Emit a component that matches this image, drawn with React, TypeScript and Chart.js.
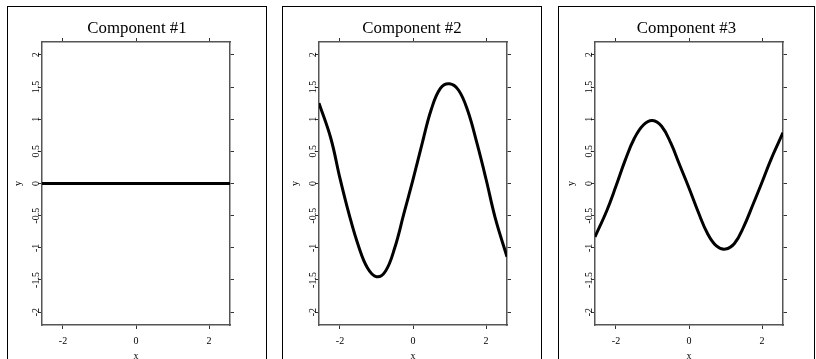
import React, { useEffect, useRef } from "react";
import { Chart, registerables } from "chart.js";

Chart.register(...registerables);

const titles = ["Component #1", "Component #2", "Component #3"];

const xValues = [
  -2.575, -2.25, -2.0, -1.75, -1.5, -1.25, -1.0, -0.75, -0.5, -0.25, 0,
  0.25, 0.5, 0.75, 1.0, 1.25, 1.5, 1.75, 2.0, 2.25, 2.575,
];

const component1 = [
  0, 0, 0, 0, 0, 0, 0, 0, 0, 0, 0, 0, 0, 0, 0, 0, 0, 0, 0, 0, 0,
];

const component2 = [
  1.25, 0.7, 0.08, -0.48, -0.96, -1.31, -1.45, -1.36, -1.0, -0.47, 0.06,
  0.62, 1.15, 1.48, 1.55, 1.45, 1.13, 0.63, 0.07, -0.53, -1.14,
];

const component3 = [
  -0.83, -0.42, -0.04, 0.36, 0.7, 0.91, 0.98, 0.89, 0.63, 0.28, -0.07,
  -0.44, -0.77, -0.97, -1.02, -0.93, -0.67, -0.33, 0.02, 0.38, 0.79,
];

const xTickValues = [-2, 0, 2];
const xTickLabels = ["-2", "0", "2"];
const yTickValues = [-2, -1.5, -1, -0.5, 0, 0.5, 1, 1.5, 2];
const yTickLabels = ["-2", "-1.5", "-1", "-0.5", "0", "0.5", "1", "1.5", "2"];
const xRange = [-2.575, 2.575];
const yRange = [-2.2, 2.2];

const seriesList = [component1, component2, component3];

const panels = [
  { frameLeft: 7, frameRight: 266, plotLeft: 42, plotRight: 230 },
  { frameLeft: 282, frameRight: 541, plotLeft: 319, plotRight: 507 },
  { frameLeft: 558, frameRight: 814, plotLeft: 595, plotRight: 783 },
];

const FONT = "'Liberation Serif', 'Times New Roman', serif";
const CANVAS_H = 360;
const PLOT_TOP = 35; // canvas coords
const PLOT_BOTTOM = 318;
const AXIS_COLOR = "#555";
const TICK_COLOR = "#333";

function Panel({ idx }: { idx: number }) {
  const ref = useRef<HTMLCanvasElement>(null);
  const p = panels[idx];
  const canvasW = p.frameRight - p.frameLeft - 1;
  useEffect(() => {
    if (!ref.current) return;
    const yW = p.plotLeft - (p.frameLeft + 1);
    const y2W = p.frameRight - p.plotRight;
    const xH = CANVAS_H - PLOT_BOTTOM;
    const tickFont = { family: FONT, size: 10 };
    const setX = (s: any) => {
      s.ticks = xTickValues.map((v) => ({ value: v }));
    };
    const setY = (s: any) => {
      s.ticks = yTickValues.map((v) => ({ value: v }));
    };
    const gridOpts = { drawOnChartArea: false, drawTicks: true, tickLength: 4, color: TICK_COLOR };
    const borderOpts = { display: true, color: AXIS_COLOR, width: 1.5 };
    const titleTop = 11.2;
    const chart = new Chart(ref.current, {
      type: "line",
      data: {
        datasets: [
          {
            data: xValues.map((x, i) => ({ x, y: seriesList[idx][i] })),
            borderColor: "#000",
            borderWidth: 3,
            pointRadius: 0,
            tension: 0.4,
            fill: false,
            clip: 0,
          } as any,
        ],
      },
      options: {
        responsive: false,
        animation: false,
        layout: { padding: 0 },
        plugins: {
          legend: { display: false },
          tooltip: { enabled: false },
          title: {
            display: true,
            text: titles[idx],
            color: "#000",
            font: { family: FONT, size: 16.8, weight: "normal", lineHeight: 1.2 },
            padding: { top: titleTop, bottom: PLOT_TOP - 4 - titleTop - 16.8 * 1.2 },
          },
        },
        scales: {
          x: {
            type: "linear",
            position: "bottom",
            min: xRange[0],
            max: xRange[1],
            afterBuildTicks: setX,
            afterFit: (s: any) => {
              s.height = xH;
            },
            ticks: {
              autoSkip: false,
              maxRotation: 0,
              minRotation: 0,
              padding: 6,
              color: "#000",
              font: tickFont,
              callback: (_v: any, i: number) => xTickLabels[i],
            },
            grid: gridOpts,
            border: borderOpts,
            title: {
              display: true,
              text: "x",
              color: "#000",
              font: tickFont,
              padding: { top: 0, bottom: 4.5 },
            },
          },
          x2: {
            type: "linear",
            position: "top",
            min: xRange[0],
            max: xRange[1],
            afterBuildTicks: setX,
            afterFit: (s: any) => {
              s.height = 4;
            },
            ticks: { display: false },
            grid: gridOpts,
            border: borderOpts,
          },
          y: {
            type: "linear",
            position: "left",
            min: yRange[0],
            max: yRange[1],
            afterBuildTicks: setY,
            afterFit: (s: any) => {
              s.width = yW;
            },
            ticks: {
              autoSkip: false,
              minRotation: 90,
              maxRotation: 90,
              crossAlign: "center",
              padding: -6.2,
              color: "#000",
              font: tickFont,
              callback: (_v: any, i: number) => yTickLabels[i],
            },
            grid: gridOpts,
            border: borderOpts,
            title: {
              display: true,
              text: "y",
              color: "#000",
              font: tickFont,
              padding: { top: yW - 30, bottom: 0 },
            },
          },
          y2: {
            type: "linear",
            position: "right",
            min: yRange[0],
            max: yRange[1],
            afterBuildTicks: setY,
            afterFit: (s: any) => {
              s.width = y2W;
            },
            ticks: { display: false },
            grid: gridOpts,
            border: borderOpts,
          },
        },
      } as any,
    });
    return () => chart.destroy();
  }, [idx]);

  return (
    <div
      style={{
        position: "absolute",
        left: p.frameLeft,
        top: 6,
        width: canvasW,
        height: 400,
        border: "1px solid #000",
        background: "#fff",
      }}
    >
      <canvas
        ref={ref}
        width={canvasW}
        height={CANVAS_H}
        style={{ display: "block", width: canvasW, height: CANVAS_H }}
      />
    </div>
  );
}

export default function App() {
  return (
    <div
      style={{
        position: "fixed",
        left: 0,
        top: 0,
        width: 816,
        height: 359,
        overflow: "hidden",
        background: "#fff",
      }}
    >
      <Panel idx={0} />
      <Panel idx={1} />
      <Panel idx={2} />
    </div>
  );
}
